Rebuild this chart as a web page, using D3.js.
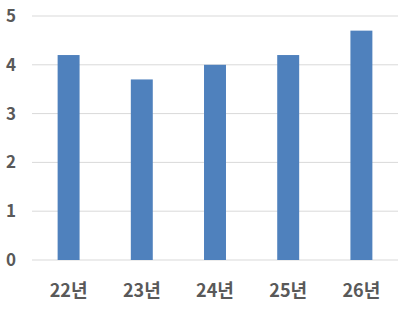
<!DOCTYPE html>
<html>
<head>
<meta charset="utf-8">
<script src="https://cdn.jsdelivr.net/npm/d3@7"></script>
<style>
  body { margin: 0; background: #fff; }
  text { font-family: "Noto Sans CJK KR", "Noto Sans", sans-serif; font-weight: bold; fill: #595959; }
</style>
</head>
<body>
<div id="chart"></div>
<script>
var svgWidth = 414;
var svgHeight = 318;

// chart data
var categories = ["22년", "23년", "24년", "25년", "26년"];
var values = [4.2, 3.7, 4.0, 4.2, 4.7];
var yTicks = [0, 1, 2, 3, 4, 5];

var margin = { top: 16, right: 16, bottom: 58, left: 32 };
var width = svgWidth - margin.left - margin.right;
var height = svgHeight - margin.top - margin.bottom;

var svg = d3.select("#chart")
  .append("svg")
  .attr("width", svgWidth)
  .attr("height", svgHeight);

var chartGroup = svg.append("g")
  .attr("transform", `translate(${margin.left}, ${margin.top})`);

var xScale = d3.scaleBand()
  .domain(categories)
  .range([0, width])
  .paddingInner(0.7)
  .paddingOuter(0.35);

var yScale = d3.scaleLinear()
  .domain([0, 5])
  .range([height, 0]);

// gridlines
chartGroup.selectAll(".grid")
  .data(yTicks)
  .enter()
  .append("line")
  .attr("x1", 0)
  .attr("x2", width)
  .attr("y1", d => yScale(d))
  .attr("y2", d => yScale(d))
  .attr("stroke", "#d9d9d9")
  .attr("stroke-width", 1);

// y labels
var leftAxis = d3.axisLeft(yScale)
  .tickValues(yTicks)
  .tickFormat(d3.format("d"))
  .tickSize(0)
  .tickPadding(16);
var yAxis = chartGroup.append("g").call(leftAxis);
yAxis.select(".domain").remove();
yAxis.selectAll("text")
  .style("font-size", "17px")
  .attr("fill", "#595959");

// bars
chartGroup.selectAll("rect")
  .data(values)
  .enter()
  .append("rect")
  .attr("x", (d, i) => xScale(categories[i]))
  .attr("y", d => yScale(d))
  .attr("width", xScale.bandwidth())
  .attr("height", d => height - yScale(d))
  .attr("fill", "#4f81bd");

// x labels
var bottomAxis = d3.axisBottom(xScale).tickSize(0).tickPadding(24);
var xAxis = chartGroup.append("g")
  .attr("transform", `translate(0, ${height})`)
  .call(bottomAxis);
xAxis.select(".domain").remove();
xAxis.selectAll("text")
  .style("font-size", "18px")
  .attr("fill", "#595959");
</script>
</body>
</html>
